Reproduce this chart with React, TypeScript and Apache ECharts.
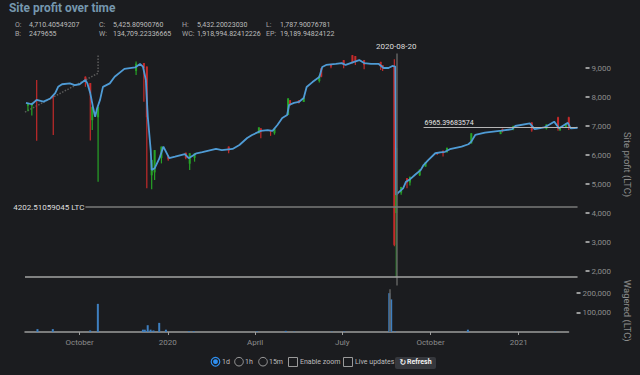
import React, { useEffect, useRef } from 'react';
import * as echarts from 'echarts';

// ---------- data ----------
const AXIS_MIN = '2019-08-05';
const AXIS_MAX = '2021-02-22';

const xTickDates = ['2019-10-01', '2020-01-01', '2020-04-01', '2020-07-01', '2020-10-01', '2021-01-01'];
const xTickLabels = ['October', '2020', 'April', 'July', 'October', '2021'];
const profitTicks = [2000, 3000, 4000, 5000, 6000, 7000, 8000, 9000];
const wageredTicks = [100000, 200000];

const profitDates = [
  '2019-08-06', '2019-08-12', '2019-08-17', '2019-08-24', '2019-08-31',
  '2019-09-05', '2019-09-08', '2019-09-12', '2019-09-20', '2019-09-25', '2019-09-30',
  '2019-10-06', '2019-10-08', '2019-10-11', '2019-10-14', '2019-10-16', '2019-10-18', '2019-10-21', '2019-10-24', '2019-10-31',
  '2019-11-05', '2019-11-15', '2019-11-26',
  '2019-12-01', '2019-12-04', '2019-12-07', '2019-12-09', '2019-12-12', '2019-12-13', '2019-12-16', '2019-12-21', '2019-12-25', '2019-12-31',
  '2020-01-06', '2020-01-16', '2020-01-20', '2020-01-28',
  '2020-02-03', '2020-02-17', '2020-02-23',
  '2020-03-05', '2020-03-12', '2020-03-20', '2020-03-25',
  '2020-04-03', '2020-04-10', '2020-04-15', '2020-04-20', '2020-04-25', '2020-04-30',
  '2020-05-02', '2020-05-07', '2020-05-12', '2020-05-17', '2020-05-20', '2020-05-26',
  '2020-06-02', '2020-06-05', '2020-06-09', '2020-06-19', '2020-06-25', '2020-06-29',
  '2020-07-07', '2020-07-13', '2020-07-18', '2020-07-25',
  '2020-08-02', '2020-08-07', '2020-08-12', '2020-08-16', '2020-08-19',
  '2020-08-20', '2020-08-22', '2020-08-27', '2020-08-30',
  '2020-09-03', '2020-09-08', '2020-09-14', '2020-09-17', '2020-09-22', '2020-09-29',
  '2020-10-04', '2020-10-09', '2020-10-14', '2020-10-26',
  '2020-11-02', '2020-11-05', '2020-11-09', '2020-11-19',
  '2020-12-06', '2020-12-17', '2020-12-20',
  '2021-01-04', '2021-01-09', '2021-01-19', '2021-01-29',
  '2021-02-03', '2021-02-12', '2021-02-15', '2021-02-22',
];
const profitValues = [
  7800, 7750, 7900, 7840, 7950,
  8130, 8350, 8440, 8470, 8410, 8440,
  8590, 8470, 8130, 7610, 7320, 7610, 7900, 8350, 8470,
  8700, 8970, 9020,
  9140, 9050, 8590, 7320, 6170, 5480, 5540, 5890, 6290, 5890,
  5940, 6030, 5890, 6060,
  6100, 6210, 6170,
  6210, 6345, 6585, 6690,
  6830, 6860, 6830, 7035, 7275, 7380,
  7725, 7795, 7830, 7965, 8345, 8515,
  8690, 9035, 9105, 9140, 9170, 9105,
  9205, 9275, 9170, 9140,
  9140, 9000, 9000, 9070, 9050,
  4620, 4700, 4850, 5080,
  5160, 5310, 5480, 5655, 5830, 6060,
  6090, 6110, 6200, 6290,
  6370, 6460, 6690, 6770,
  6840, 6890, 7000,
  7090, 6890, 6950, 7150,
  6920, 7110, 6920, 6940,
];

// [date, open, close, low, high]
const candles: [string, number, number, number, number][] = [
  ['2019-08-08', 7700, 7760, 7510, 7790],
  ['2019-08-12', 7700, 7760, 7360, 7800],
  ['2019-08-17', 7920, 7880, 6490, 8590],
  ['2019-09-03', 8050, 8000, 6690, 8070],
  ['2019-10-06', 8700, 8560, 8350, 8710],
  ['2019-10-11', 8480, 8130, 6500, 8480],
  ['2019-10-13', 7200, 7660, 6860, 7670],
  ['2019-10-19', 7300, 7660, 5080, 7670],
  ['2019-11-27', 8900, 9150, 8760, 9220],
  ['2019-12-05', 9170, 9000, 7840, 9170],
  ['2019-12-08', 9050, 7300, 4850, 9050],
  ['2019-12-13', 5300, 5830, 4820, 5830],
  ['2019-12-16', 5400, 6170, 5140, 6170],
  ['2019-12-23', 5900, 6290, 5710, 6290],
  ['2019-12-30', 5950, 5850, 5800, 6000],
  ['2020-01-17', 6080, 5900, 5850, 6080],
  ['2020-01-21', 5700, 6060, 5480, 6060],
  ['2020-01-26', 5900, 6060, 5770, 6060],
  ['2020-03-01', 6290, 6150, 6060, 6290],
  ['2020-04-01', 6750, 6950, 6750, 6955],
  ['2020-04-03', 6920, 6800, 6580, 6920],
  ['2020-04-13', 6860, 6800, 6660, 6860],
  ['2020-04-17', 6750, 6900, 6700, 6900],
  ['2020-05-01', 7380, 7950, 7380, 7955],
  ['2020-05-03', 7890, 7750, 7700, 7890],
  ['2020-05-12', 7890, 7800, 7780, 7890],
  ['2020-05-17', 7830, 7970, 7830, 8000],
  ['2020-06-02', 8550, 8730, 8500, 8740],
  ['2020-06-04', 8990, 8700, 8680, 8990],
  ['2020-06-14', 9140, 9050, 8990, 9140],
  ['2020-06-27', 9270, 9100, 8990, 9276],
  ['2020-07-06', 9440, 9200, 9160, 9448],
  ['2020-07-09', 9410, 9250, 9100, 9410],
  ['2020-07-18', 9270, 9100, 8955, 9276],
  ['2020-08-04', 9210, 9050, 8930, 9217],
  ['2020-08-06', 9100, 9000, 8900, 9100],
  ['2020-08-18', 9070, 2900, 2850, 9300],
  ['2020-08-20', 4000, 6240, 1788, 6240],
  ['2020-08-25', 4700, 4900, 4630, 4900],
  ['2020-08-31', 5200, 5050, 4850, 5200],
  ['2020-09-03', 5050, 5250, 4950, 5250],
  ['2020-09-13', 5300, 5500, 5280, 5500],
  ['2020-09-19', 5600, 5750, 5600, 5760],
  ['2020-10-01', 6090, 6040, 6000, 6090],
  ['2020-10-07', 6150, 6060, 5950, 6150],
  ['2020-10-11', 6100, 6250, 6080, 6250],
  ['2020-11-05', 6400, 6750, 6400, 6750],
  ['2020-12-05', 6720, 6860, 6720, 6860],
  ['2020-12-07', 6900, 6820, 6780, 6910],
  ['2020-12-18', 6880, 7000, 6850, 7010],
  ['2021-01-06', 7120, 6850, 6800, 7130],
  ['2021-01-21', 6900, 7050, 6880, 7060],
  ['2021-02-02', 7300, 6900, 6840, 7320],
  ['2021-02-04', 6850, 6950, 6840, 6960],
  ['2021-02-10', 6950, 7080, 6950, 7100],
  ['2021-02-13', 7300, 6950, 6860, 7320],
];

const wageredDates = [
  '2019-08-18', '2019-09-03', '2019-10-12', '2019-10-20', '2019-12-06', '2019-12-08', '2019-12-11',
  '2019-12-14', '2019-12-17', '2019-12-23', '2019-12-30', '2020-01-23', '2020-01-28', '2020-04-03',
  '2020-05-03', '2020-05-12', '2020-06-20', '2020-07-03', '2020-08-19', '2020-08-21', '2020-08-25',
  '2020-11-09', '2021-02-08',
];
const wageredValues = [
  15000, 15000, 8000, 145000, 12000, 12000, 35000,
  12000, 8000, 47000, 12000, 4000, 4000, 3000,
  6000, 2000, 2000, 2500, 200000, 168000, 3000,
  12000, 2000,
];

const trendDates = ['2019-08-05', '2019-10-19', '2019-10-19'];
const trendValues = [7480, 8820, 9450];

const markerDate = '2020-08-20';
const supportLevel = 4202.51059045;
const lowLevel = 1787.90076781;
const lastLevel = 6965.39683574;
const lastLevelFrom = '2020-09-17';
const supportFrom = '2019-10-06';

const headerRow1Labels = ['O:', 'C:', 'H:', 'L:'];
const headerRow1Values = ['4,710.40549207', '5,425.80900760', '5,432.20023030', '1,787.90076781'];
const headerRow2Labels = ['B:', 'W:', 'WC:', 'EP:'];
const headerRow2Values = ['2479655', '134,709.22336665', '1,918,994.82412226', '19,189.94824122'];

// ---------- style ----------
const BG = '#1b1c1f';
const GREEN = '#27a327';
const RED = '#c42a2a';
const LINE_BLUE = '#4f9bd5';
const VOL_BLUE = '#3e7fc0';
const AXIS_TEXT = '#8c8c8c';
const FONT = 'Roboto';

const ts = (s: string) => {
  const [y, m, d] = s.split('-').map(Number);
  return Date.UTC(y, m - 1, d);
};
const fmt = (v: number) => v.toLocaleString('en-US');

function buildOption(): any {
  const xTickTimes = xTickDates.map(ts);
  const xMin = ts(AXIS_MIN);
  const xMax = ts(AXIS_MAX);

  const txt = (text: string, x: number, y: number, font: string, fill: string, extra: any = {}) => ({
    type: 'text',
    x,
    y,
    silent: true,
    ...extra,
    style: {
      text,
      font,
      fill,
      textAlign: 'left',
      align: 'left',
      textVerticalAlign: 'middle',
      verticalAlign: 'middle',
    },
  });

  const headerColsLabel = [15, 99, 182, 266];
  const headerColsValue = [29, 113, 197, 280];
  const headerEls: any[] = [];
  headerRow1Labels.forEach((l, i) => {
    headerEls.push(txt(l, headerColsLabel[i], 25, `7px ${FONT}`, '#a8a8a8'));
    headerEls.push(txt(headerRow1Values[i], headerColsValue[i], 25, `7px ${FONT}`, '#bdbdbd'));
  });
  headerRow2Labels.forEach((l, i) => {
    headerEls.push(txt(l, headerColsLabel[i], 34, `7px ${FONT}`, '#a8a8a8'));
    headerEls.push(txt(headerRow2Values[i], headerColsValue[i], 34, `7px ${FONT}`, '#bdbdbd'));
  });

  const controlY = 361.7;
  const radio = (cx: number, on: boolean) =>
    on
      ? [
          { type: 'circle', silent: true, shape: { cx, cy: controlY, r: 4.3 }, style: { fill: 'none', stroke: '#2f8ff0', lineWidth: 1.2 } },
          { type: 'circle', silent: true, shape: { cx, cy: controlY, r: 2.4 }, style: { fill: '#2f8ff0' } },
        ]
      : [{ type: 'circle', silent: true, shape: { cx, cy: controlY, r: 4.3 }, style: { fill: 'none', stroke: '#9a9a9a', lineWidth: 1 } }];

  const controls: any[] = [
    ...radio(215.5, true),
    txt('1d', 222, controlY, `7px ${FONT}`, '#bdbdbd'),
    ...radio(239, false),
    txt('1h', 245, controlY, `7px ${FONT}`, '#bdbdbd'),
    ...radio(263, false),
    txt('15m', 269, controlY, `7px ${FONT}`, '#bdbdbd'),
    { type: 'rect', silent: true, shape: { x: 288.5, y: 357.5, width: 9, height: 9 }, style: { fill: 'none', stroke: '#9a9a9a', lineWidth: 1 } },
    txt('Enable zoom', 300, controlY, `7px ${FONT}`, '#bdbdbd'),
    { type: 'rect', silent: true, shape: { x: 343.5, y: 357.5, width: 9, height: 9 }, style: { fill: 'none', stroke: '#9a9a9a', lineWidth: 1 } },
    txt('Live updates', 355, controlY, `7px ${FONT}`, '#bdbdbd'),
    { type: 'rect', silent: true, shape: { x: 395, y: 357, width: 41, height: 12, r: 2 }, style: { fill: '#36383d' } },
    txt('\u21bb', 399.5, 362.5, `bold 8px 'DejaVu Sans'`, '#eeeeee'),
    txt('Refresh', 407, controlY + 0.5, `bold 7px ${FONT}`, '#f2f2f2'),
  ];

  const xAxisBase = { type: 'value', min: xMin, max: xMax, scale: true, splitLine: { show: false } };

  return {
    animation: false,
    backgroundColor: BG,
    textStyle: { fontFamily: FONT },
    grid: [
      { left: 25, right: 60, top: 53.5, height: 232 },
      { left: 25, right: 60, top: 289.3, height: 42.7 },
    ],
    xAxis: [
      {
        ...xAxisBase,
        gridIndex: 0,
        axisLine: { show: false },
        axisTick: { show: false },
        axisLabel: { show: false },
      },
      {
        ...xAxisBase,
        gridIndex: 1,
        axisLine: { show: true, onZero: false, lineStyle: { color: '#9c9c9c', width: 1.5 } },
        axisTick: { show: true, customValues: xTickTimes, length: 3, lineStyle: { color: '#9c9c9c', width: 1 } },
        axisLabel: {
          customValues: xTickTimes,
          color: AXIS_TEXT,
          fontSize: 8,
          margin: 6,
          formatter: (v: number) => {
            const i = xTickTimes.indexOf(v);
            return i >= 0 ? xTickLabels[i] : '';
          },
        },
      },
    ],
    yAxis: [
      {
        type: 'value',
        gridIndex: 0,
        position: 'right',
        min: 1500,
        max: 9500,
        offset: 8,
        axisLine: { show: false },
        axisTick: { show: true, customValues: profitTicks, length: 4, lineStyle: { color: '#c4c4c4', width: 1.5 } },
        axisLabel: { customValues: profitTicks, color: AXIS_TEXT, fontSize: 8, margin: 6, formatter: (v: number) => fmt(v) },
        splitLine: { show: false },
        name: 'Site profit (LTC)',
        nameLocation: 'middle',
        nameRotate: -90,
        nameGap: 30,
        nameTextStyle: { color: AXIS_TEXT, fontSize: 9.5, padding: [0, 10, 0, 0] },
      },
      {
        type: 'value',
        gridIndex: 1,
        position: 'right',
        min: 0,
        max: 220000,
        offset: 8,
        axisLine: { show: false },
        axisTick: { show: true, customValues: wageredTicks, length: 4, lineStyle: { color: '#c4c4c4', width: 1.5 } },
        axisLabel: { customValues: wageredTicks, color: AXIS_TEXT, fontSize: 8, margin: 6, formatter: (v: number) => fmt(v) },
        splitLine: { show: false },
        name: 'Wagered (LTC)',
        nameLocation: 'middle',
        nameRotate: -90,
        nameGap: 30,
        nameTextStyle: { color: AXIS_TEXT, fontSize: 9.5 },
      },
    ],
    graphic: {
      elements: [
        txt('Site profit over time', 9, 7.5, `bold 13px ${FONT}`, '#7597ae', { scaleX: 0.92 }),
        ...headerEls,
        ...controls,
      ],
    },
    series: [
      {
        name: 'trend',
        type: 'line',
        xAxisIndex: 0,
        yAxisIndex: 0,
        data: trendDates.map((d, i) => [ts(d), trendValues[i]]),
        showSymbol: false,
        silent: true,
        lineStyle: { color: '#5c5c5c', width: 1.5, type: 'dotted' },
        z: 1,
      },
      {
        name: 'candles',
        type: 'custom',
        xAxisIndex: 0,
        yAxisIndex: 0,
        silent: true,
        z: 2,
        data: candles.map((c) => [ts(c[0]), c[1], c[2], c[3], c[4]]),
        encode: { x: 0, y: [1, 2, 3, 4] },
        renderItem: (_p: any, api: any) => {
          const x = api.value(0);
          const o = api.value(1);
          const c = api.value(2);
          const l = api.value(3);
          const h = api.value(4);
          const pO = api.coord([x, o]);
          const pC = api.coord([x, c]);
          const pL = api.coord([x, l]);
          const pH = api.coord([x, h]);
          const color = c >= o ? GREEN : RED;
          const top = Math.min(pO[1], pC[1]);
          const hgt = Math.max(1, Math.abs(pO[1] - pC[1]));
          return {
            type: 'group',
            children: [
              { type: 'line', shape: { x1: pL[0], y1: pL[1], x2: pH[0], y2: pH[1] }, style: { stroke: color, lineWidth: 1.2 } },
              { type: 'rect', shape: { x: pO[0] - 1, y: top, width: 2, height: hgt }, style: { fill: color } },
            ],
          };
        },
      },
      {
        name: 'profit',
        type: 'line',
        xAxisIndex: 0,
        yAxisIndex: 0,
        data: profitDates.map((d, i) => [ts(d), profitValues[i]]),
        showSymbol: false,
        silent: true,
        z: 3,
        lineStyle: { color: LINE_BLUE, width: 1.8 },
        markLine: {
          silent: true,
          symbol: ['none', 'none'],
          animation: false,
          data: [
            {
              xAxis: ts(markerDate),
              lineStyle: { color: '#606060', width: 1.5, type: 'solid' },
              label: { show: true, position: 'end', formatter: markerDate, color: '#dedede', fontSize: 8, distance: 3 },
            },
            [
              {
                coord: [ts(supportFrom), supportLevel],
                lineStyle: { color: '#7a7a7a', width: 1.5, type: 'solid' },
                label: {
                  show: true,
                  position: 'start',
                  formatter: `${supportLevel} LTC`,
                  color: '#dedede',
                  fontSize: 8,
                  distance: 1,
                  padding: [0, 0, 4, 0],
                },
              },
              { coord: [ts(AXIS_MAX), supportLevel] },
            ],
            [
              {
                coord: [ts(AXIS_MIN), lowLevel],
                lineStyle: { color: '#a3a3a3', width: 1.5, type: 'solid' },
                label: { show: false },
              },
              { coord: [ts(AXIS_MAX), lowLevel] },
            ],
            [
              {
                coord: [ts(lastLevelFrom), lastLevel],
                lineStyle: { color: '#b5b5b5', width: 1.2, type: 'solid' },
                label: {
                  show: true,
                  position: 'insideStartTop',
                  formatter: String(lastLevel),
                  color: '#e6e6e6',
                  fontSize: 7,
                  distance: 1,
                },
              },
              { coord: [ts(AXIS_MAX), lastLevel] },
            ],
          ],
        },
      },
      {
        name: 'wagered',
        type: 'bar',
        xAxisIndex: 1,
        yAxisIndex: 1,
        barWidth: 2,
        silent: true,
        itemStyle: { color: VOL_BLUE },
        data: wageredDates.map((d, i) => [ts(d), wageredValues[i]]),
        markLine: {
          silent: true,
          symbol: ['none', 'none'],
          animation: false,
          label: { show: false },
          data: [{ xAxis: ts(markerDate), lineStyle: { color: '#606060', width: 1.5, type: 'solid' } }],
        },
      },
    ],
  };
}

export default function App() {
  const ref = useRef<HTMLDivElement>(null);
  useEffect(() => {
    document.body.style.margin = '0';
    document.body.style.background = BG;
    const chart = echarts.init(ref.current!, null, { renderer: 'svg', width: 640, height: 375 });
    chart.setOption(buildOption());
    return () => chart.dispose();
  }, []);
  return <div ref={ref} style={{ width: 640, height: 375, position: 'absolute', left: 0, top: 0 }} />;
}
